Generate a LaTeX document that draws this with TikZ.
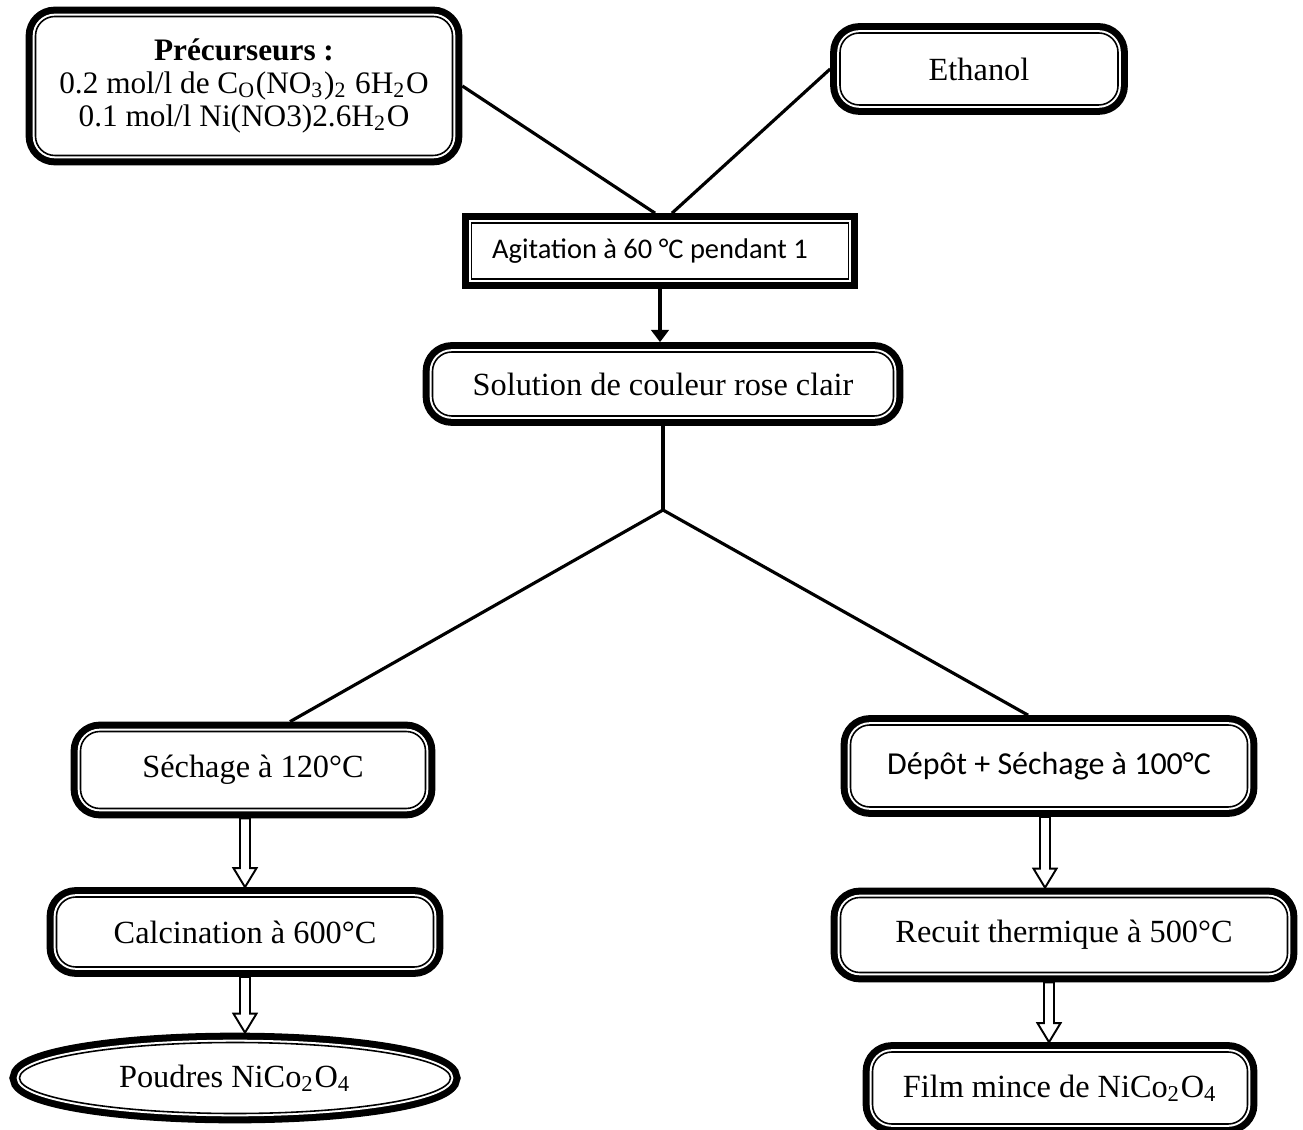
\documentclass[tikz,border=0pt]{standalone}
\usepackage{fontspec}
\setmainfont{Liberation Serif}
\newfontfamily\calibri{Carlito}
\usetikzlibrary{arrows.meta,shapes.geometric,calc}

\tikzset{
    framed/.style={draw, line width=0.45pt, outer sep=2.8pt, inner sep=0pt, align=center,
        font=\fontsize{9.2}{9.6}\selectfont,
        preaction={draw=black, line width=5.6pt},
        preaction={draw=white, line width=1.6pt},
        preaction={fill=white}},
    roundbox/.style={framed, rectangle, rounded corners=5.5pt},
    squarebox/.style={framed, rectangle},
    ovalbox/.style={framed, ellipse},
    link/.style={line width=0.9pt},
    arrowlink/.style={link, -{Triangle[length=3.5pt, width=5pt]}},
    hollow/.style={draw, fill=white, line width=0.55pt, to path={
        let \p1=(\tikztostart), \p2=(\tikztotarget) in
        (\x1-0.05cm,\y1) -- (\x1-0.05cm,\y2+0.19cm) -- (\x1-0.115cm,\y2+0.19cm) -- (\x1,\y2)
        -- (\x1+0.115cm,\y2+0.19cm) -- (\x1+0.05cm,\y2+0.19cm) -- (\x1+0.05cm,\y1) -- cycle}}
}

\begin{document}
\begin{tikzpicture}
    \useasboundingbox (0,0) rectangle (13.03,11.29);

    % Starting products
    \node[roundbox, minimum width=4.17cm, minimum height=1.39cm, font=\fontsize{8.9}{9.5}\selectfont] (prec) at (2.44,10.43)
        {\textbf{Précurseurs :}\\0.2 mol/l de C\textsubscript{O}(NO\textsubscript{3})\textsubscript{2} 6H\textsubscript{2}O\\0.1 mol/l Ni(NO3)2.6H\textsubscript{2}O};
    \node[roundbox, minimum width=2.78cm, minimum height=0.72cm] (eth) at (9.79,10.60) {Ethanol};

    % Mixing
    \node[squarebox, minimum width=3.77cm, minimum height=0.56cm, font=\calibri\fontsize{8.1}{9.6}\selectfont] (agit) at (6.60,8.78) {Agitation à 60 °C pendant 1\hspace{0.2cm}};
    \node[roundbox, minimum width=4.61cm, minimum height=0.64cm] (sol) at (6.63,7.45) {Solution de couleur rose clair};
    \coordinate (fork) at (6.63,6.19);

    % Powder route
    \node[roundbox, minimum width=3.45cm, minimum height=0.77cm] (sech) at (2.53,3.59) {Séchage à 120°C};
    \node[roundbox, minimum width=3.77cm, minimum height=0.70cm] (calc) at (2.45,1.97) {Calcination à 600°C};
    \node[ovalbox, minimum width=4.31cm, minimum height=0.71cm] (poud) at (2.35,0.51) {Poudres NiCo\textsubscript{2}O\textsubscript{4}};

    % Thin film route
    \node[roundbox, minimum width=3.97cm, minimum height=0.82cm, font=\calibri\fontsize{9.1}{9.6}\selectfont] (dep) at (10.49,3.63) {Dépôt + Séchage à 100°C};
    \node[roundbox, minimum width=4.47cm, minimum height=0.75cm] (rec) at (10.64,1.94) {Recuit thermique à 500°C};
    \node[roundbox, minimum width=3.75cm, minimum height=0.72cm] (film) at (10.60,0.41) {Film mince de NiCo\textsubscript{2}O\textsubscript{4}};

    % Connections
    \draw[link] (prec.east) -- ([xshift=-0.05cm]agit.north);
    \draw[link] (eth.west) -- ([xshift=0.12cm]agit.north);
    \draw[arrowlink] (agit.south) -- (agit.south |- sol.north);
    \draw[link] (sol.south) -- (fork);
    \draw[link] (fork) -- ([xshift=0.37cm]sech.north);
    \draw[link] (fork) -- ([xshift=-0.21cm]dep.north);

    % Hollow arrows
    \draw[hollow] (sech.south -| calc.north) to (calc.north);
    \draw[hollow] (calc.south) to (poud.north);
    \draw[hollow] ([xshift=-0.04cm]dep.south) to (rec.north);
    \draw[hollow] (rec.south -| dep.south) to (film.north);

\end{tikzpicture}
\end{document}
